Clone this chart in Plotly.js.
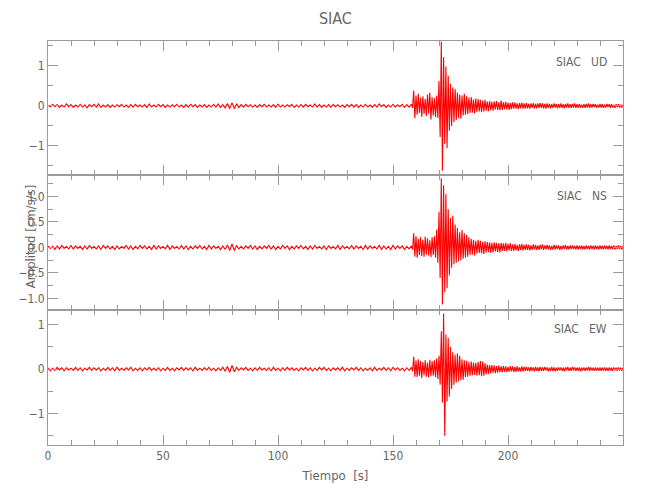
<!DOCTYPE html>
<html>
<head>
<meta charset="utf-8">
<script src="https://cdn.plot.ly/plotly-3.0.1.min.js"></script>
<style>html,body{margin:0;padding:0;background:#fff}#chart{width:650px;height:500px}</style>
</head>
<body>
<div id="chart"></div>
<script>
// Sampling of the record (seconds)
const QUIET_START = 0, QUIET_STEP = 1;      // 0 .. 157 s
const EVENT_START = 158, EVENT_STEP = 0.5;  // 158 .. 250 s

const STATION = "SIAC";
const COMPONENTS = ["UD", "NS", "EW"];
const X_TICKS = [0, 50, 100, 150, 200];

// Vertical component (cm/s/s)
const UD_QUIET = [
0.02,-0.03,0.04,-0.02,0.03,-0.04,0.02,-0.03,0.05,-0.02,
0.03,-0.04,0.02,-0.03,0.04,-0.03,0.02,-0.05,0.03,-0.02,
0.04,-0.03,0.05,-0.04,0.02,-0.03,0.03,-0.04,0.02,-0.03,
0.03,-0.02,0.04,-0.03,0.02,-0.04,0.03,-0.03,0.04,-0.02,
0.02,-0.03,0.03,-0.04,0.05,-0.03,0.02,-0.03,0.04,-0.02,
0.03,-0.04,0.02,-0.03,0.03,-0.02,0.04,-0.03,0.02,-0.04,
0.03,-0.03,0.04,-0.02,0.03,-0.04,0.02,-0.03,0.03,-0.04,
0.02,-0.03,0.04,-0.03,0.05,-0.04,0.03,-0.05,0.06,-0.07,
0.08,-0.07,0.05,-0.04,0.03,-0.03,0.04,-0.02,0.03,-0.03,
0.02,-0.04,0.03,-0.02,0.04,-0.03,0.02,-0.03,0.03,-0.04,
0.04,-0.03,0.02,-0.03,0.03,-0.02,0.04,-0.04,0.02,-0.03,
0.03,-0.03,0.04,-0.02,0.02,-0.03,0.05,-0.03,0.03,-0.04,
0.02,-0.03,0.03,-0.04,0.04,-0.02,0.03,-0.03,0.02,-0.04,
0.03,-0.02,0.04,-0.03,0.03,-0.04,0.02,-0.03,0.04,-0.03,
0.02,-0.04,0.03,-0.03,0.05,-0.02,0.03,-0.04,0.02,-0.03,
0.04,-0.03,0.03,-0.02,0.04,-0.04,0.03,-0.03
];
const UD_EVENT = [
0.04,-0.05,0.38,-0.31,0.26,-0.22,0.3,-0.18,0.21,-0.27,
0.24,-0.2,0.17,-0.25,0.28,-0.19,0.33,-0.34,0.22,-0.24,
0.19,-0.28,0.26,-0.3,0.62,-0.78,1.6,-1.62,1.22,-0.95,
0.98,-1.06,0.75,-0.62,0.55,-0.5,0.46,-0.4,0.42,-0.35,
0.33,-0.3,0.28,-0.32,0.26,-0.24,0.3,-0.22,0.24,-0.21,
0.2,-0.18,0.22,-0.17,0.16,-0.19,0.18,-0.15,0.17,-0.14,
0.15,-0.16,0.13,-0.14,0.15,-0.12,0.11,-0.13,0.12,-0.11,
0.1,-0.12,0.11,-0.09,0.12,-0.1,0.09,-0.11,0.13,-0.1,
0.09,-0.08,0.1,-0.09,0.08,-0.1,0.07,-0.08,0.09,-0.07,
0.08,-0.07,0.06,-0.08,0.07,-0.06,0.08,-0.07,0.06,-0.07,
0.07,-0.06,0.05,-0.07,0.06,-0.05,0.07,-0.06,0.05,-0.06,
0.06,-0.05,0.07,-0.05,0.06,-0.06,0.05,-0.07,0.06,-0.05,
0.05,-0.06,0.04,-0.05,0.06,-0.04,0.05,-0.06,0.04,-0.05,
0.06,-0.05,0.04,-0.06,0.05,-0.04,0.06,-0.05,0.04,-0.05,
0.05,-0.04,0.06,-0.05,0.04,-0.05,0.05,-0.04,0.03,-0.05,
0.04,-0.05,0.05,-0.04,0.06,-0.05,0.04,-0.04,0.05,-0.03,
0.04,-0.05,0.03,-0.04,0.05,-0.04,0.04,-0.05,0.03,-0.04,
0.05,-0.03,0.04,-0.05,0.04,-0.04,0.03,-0.05,0.04,-0.03,
0.04,-0.04,0.03,-0.04,0.03
];

// North-south component (cm/s/s)
const NS_QUIET = [
0.03,-0.02,0.02,-0.04,0.03,-0.03,0.04,-0.02,0.02,-0.03,
0.04,-0.03,0.03,-0.02,0.02,-0.04,0.03,-0.03,0.04,-0.02,
0.02,-0.03,0.03,-0.04,0.04,-0.02,0.03,-0.03,0.02,-0.04,
0.03,-0.03,0.02,-0.02,0.04,-0.03,0.03,-0.04,0.02,-0.03,
0.04,-0.02,0.03,-0.03,0.02,-0.04,0.04,-0.03,0.03,-0.02,
0.02,-0.03,0.04,-0.04,0.03,-0.02,0.02,-0.03,0.04,-0.03,
0.03,-0.04,0.02,-0.03,0.03,-0.02,0.04,-0.03,0.02,-0.04,
0.04,-0.03,0.03,-0.02,0.02,-0.04,0.03,-0.04,0.05,-0.06,
0.07,-0.06,0.04,-0.03,0.02,-0.03,0.03,-0.02,0.04,-0.03,
0.03,-0.04,0.02,-0.03,0.03,-0.02,0.04,-0.03,0.03,-0.04,
0.02,-0.03,0.04,-0.02,0.03,-0.04,0.02,-0.03,0.03,-0.02,
0.04,-0.03,0.02,-0.04,0.03,-0.03,0.04,-0.02,0.02,-0.03,
0.03,-0.04,0.03,-0.02,0.02,-0.03,0.04,-0.04,0.03,-0.02,
0.02,-0.03,0.04,-0.03,0.03,-0.02,0.02,-0.04,0.04,-0.03,
0.03,-0.02,0.02,-0.03,0.04,-0.04,0.03,-0.03,0.02,-0.04,
0.04,-0.03,0.03,-0.02,0.03,-0.04,0.02,-0.03
];
const NS_EVENT = [
0.03,-0.04,0.28,-0.18,0.22,-0.2,0.17,-0.15,0.2,-0.17,
0.15,-0.18,0.21,-0.14,0.18,-0.16,0.14,-0.19,0.2,-0.15,
0.22,-0.2,0.35,-0.3,0.7,-0.6,1.36,-1.12,1.22,-0.88,
1.05,-0.8,0.75,-0.55,0.58,-0.4,0.62,-0.33,0.45,-0.3,
0.38,-0.27,0.3,-0.25,0.34,-0.22,0.28,-0.2,0.25,-0.18,
0.2,-0.15,0.17,-0.14,0.15,-0.16,0.13,-0.12,0.15,-0.11,
0.13,-0.12,0.11,-0.13,0.12,-0.1,0.11,-0.09,0.1,-0.11,
0.09,-0.1,0.1,-0.08,0.09,-0.09,0.08,-0.1,0.09,-0.07,
0.08,-0.07,0.09,-0.08,0.07,-0.06,0.08,-0.07,0.06,-0.07,
0.07,-0.06,0.05,-0.07,0.06,-0.05,0.07,-0.06,0.05,-0.05,
0.06,-0.05,0.05,-0.06,0.04,-0.05,0.06,-0.04,0.05,-0.05,
0.04,-0.05,0.05,-0.04,0.06,-0.05,0.04,-0.04,0.05,-0.04,
0.04,-0.05,0.03,-0.04,0.05,-0.04,0.04,-0.03,0.04,-0.05,
0.03,-0.04,0.04,-0.03,0.05,-0.04,0.03,-0.04,0.04,-0.03,
0.04,-0.03,0.03,-0.04,0.04,-0.04,0.03,-0.03,0.04,-0.04,
0.03,-0.04,0.04,-0.03,0.03,-0.04,0.04,-0.03,0.03,-0.04,
0.04,-0.03,0.03,-0.04,0.04,-0.03,0.03,-0.04,0.04,-0.03,
0.03,-0.04,0.04,-0.03,0.03,-0.03,0.04,-0.04,0.03,-0.03,
0.04,-0.03,0.03,-0.04,0.03
];

// East-west component (cm/s/s)
const EW_QUIET = [
0.03,-0.04,0.02,-0.03,0.04,-0.02,0.03,-0.04,0.03,-0.02,
0.02,-0.03,0.04,-0.03,0.03,-0.04,0.02,-0.02,0.04,-0.03,
0.03,-0.02,0.03,-0.04,0.02,-0.03,0.04,-0.03,0.03,-0.04,
0.04,-0.03,0.02,-0.03,0.03,-0.02,0.04,-0.04,0.02,-0.03,
0.03,-0.04,0.03,-0.02,0.04,-0.03,0.02,-0.03,0.03,-0.04,
0.02,-0.03,0.04,-0.03,0.02,-0.04,0.03,-0.02,0.04,-0.03,
0.03,-0.02,0.03,-0.04,0.04,-0.03,0.02,-0.03,0.03,-0.02,
0.04,-0.03,0.02,-0.04,0.03,-0.03,0.04,-0.05,0.06,-0.07,
0.08,-0.06,0.04,-0.03,0.03,-0.02,0.04,-0.03,0.02,-0.04,
0.03,-0.03,0.04,-0.02,0.02,-0.03,0.03,-0.04,0.04,-0.03,
0.02,-0.04,0.03,-0.03,0.04,-0.02,0.03,-0.03,0.02,-0.04,
0.03,-0.02,0.04,-0.03,0.03,-0.04,0.02,-0.03,0.04,-0.02,
0.04,-0.03,0.02,-0.04,0.03,-0.02,0.03,-0.03,0.04,-0.04,
0.02,-0.03,0.03,-0.02,0.04,-0.03,0.03,-0.04,0.02,-0.03,
0.03,-0.04,0.04,-0.03,0.02,-0.02,0.04,-0.03,0.03,-0.04,
0.04,-0.02,0.03,-0.03,0.02,-0.04,0.03,-0.03
];
const EW_EVENT = [
0.04,-0.05,0.28,-0.17,0.2,-0.18,0.22,-0.15,0.18,-0.2,
0.16,-0.14,0.2,-0.17,0.15,-0.19,0.21,-0.16,0.18,-0.15,
0.2,-0.18,0.24,-0.22,0.3,-0.35,0.85,-0.75,1.25,-1.5,
0.78,-0.73,0.7,-0.62,0.5,-0.45,0.38,-0.35,0.32,-0.3,
0.35,-0.28,0.3,-0.25,0.22,-0.24,0.2,-0.18,0.19,-0.17,
0.16,-0.15,0.17,-0.14,0.15,-0.13,0.14,-0.15,0.16,-0.14,
0.18,-0.16,0.17,-0.15,0.13,-0.12,0.1,-0.11,0.09,-0.1,
0.09,-0.08,0.08,-0.09,0.07,-0.08,0.08,-0.07,0.06,-0.07,
0.07,-0.06,0.06,-0.07,0.05,-0.06,0.07,-0.05,0.06,-0.06,
0.05,-0.06,0.06,-0.05,0.04,-0.05,0.06,-0.05,0.05,-0.04,
0.05,-0.04,0.04,-0.05,0.05,-0.04,0.04,-0.05,0.05,-0.04,
0.04,-0.05,0.05,-0.04,0.04,-0.04,0.05,-0.03,0.04,-0.05,
0.03,-0.04,0.05,-0.04,0.04,-0.05,0.03,-0.04,0.04,-0.03,
0.04,-0.04,0.03,-0.05,0.04,-0.03,0.05,-0.04,0.03,-0.04,
0.05,-0.03,0.04,-0.04,0.03,-0.04,0.04,-0.05,0.03,-0.03,
0.04,-0.04,0.03,-0.03,0.05,-0.04,0.04,-0.03,0.03,-0.04,
0.04,-0.03,0.03,-0.04,0.04,-0.04,0.03,-0.03,0.04,-0.04,
0.03,-0.04,0.04,-0.03,0.03,-0.04,0.04,-0.03,0.03,-0.04,
0.04,-0.03,0.03,-0.04,0.03
];

function timesFor(quiet, event) {
  const t = [];
  for (let i = 0; i < quiet.length; i++) t.push(QUIET_START + i * QUIET_STEP);
  for (let i = 0; i < event.length; i++) t.push(EVENT_START + i * EVENT_STEP);
  return t;
}

const FONT = "DejaVu Sans Condensed, Liberation Sans Narrow, sans-serif";
const AX = '#9a9a9a';
const TXT = '#666666';
const LINE = {color: '#ff0000', width: 1.1};

const channels = [
  {q: UD_QUIET, e: UD_EVENT, x: 'x', y: 'y'},
  {q: NS_QUIET, e: NS_EVENT, x: 'x2', y: 'y2'},
  {q: EW_QUIET, e: EW_EVENT, x: 'x3', y: 'y3'}
];
// Panel order top->bottom: UD (x/y), NS (x2/y2), EW (x3/y3)
const data = channels.map(c => ({
  type: 'scatter', mode: 'lines',
  x: timesFor(c.q, c.e), y: c.q.concat(c.e),
  xaxis: c.x, yaxis: c.y, line: LINE, hoverinfo: 'skip'
}));

function xAxis(anchor, showLabels) {
  return {
    anchor: anchor, domain: [0, 1], range: [0, 250],
    tickmode: 'array', tickvals: X_TICKS, showticklabels: showLabels,
    ticks: 'inside', ticklen: 10, tickwidth: 1, tickcolor: AX,
    showline: true, linecolor: AX, linewidth: 1, mirror: 'ticks',
    showgrid: false, zeroline: false,
    minor: {tickmode: 'linear', tick0: 0, dtick: 10, ticks: 'inside', ticklen: 5, tickcolor: AX, showgrid: false},
    tickfont: {family: FONT, size: 12, color: TXT}
  };
}
function yAxis(anchor, domain, range, vals, fmt, minorStep) {
  return {
    anchor: anchor, domain: domain, range: range,
    tickmode: 'array', tickvals: vals, tickformat: fmt,
    ticks: 'inside', ticklen: 10, tickwidth: 1, tickcolor: AX,
    showline: true, linecolor: AX, linewidth: 1, mirror: 'ticks',
    showgrid: false, zeroline: false,
    minor: {tickmode: 'linear', tick0: 0, dtick: minorStep, ticks: 'inside', ticklen: 5, tickcolor: AX, showgrid: false},
    tickfont: {family: FONT, size: 12, color: TXT}
  };
}

const nb = '\u00a0\u00a0\u00a0';
const labelY = [0.948, 0.616, 0.287];
const annotations = COMPONENTS.map((c, i) => ({
  xref: 'paper', yref: 'paper', x: 0.976, y: labelY[i], xanchor: 'right', yanchor: 'middle',
  text: STATION + nb + c, showarrow: false, font: {family: FONT, size: 12, color: TXT}
}));
annotations.push({
  xref: 'paper', yref: 'paper', x: -0.029, y: 0.515, xanchor: 'center', yanchor: 'middle',
  text: 'Amplitud\u00a0[cm/s/s]', textangle: -90, showarrow: false,
  font: {family: FONT, size: 13, color: TXT}
});

const layout = {
  width: 650, height: 500,
  margin: {l: 48, r: 27, t: 41, b: 55},
  paper_bgcolor: '#ffffff', plot_bgcolor: '#ffffff',
  showlegend: false, hovermode: false,
  title: {text: STATION, x: 0.516, xanchor: 'center', y: 0.964, yanchor: 'middle',
          font: {family: FONT, size: 16, color: TXT}},
  xaxis: xAxis('y', false),
  xaxis2: xAxis('y2', false),
  xaxis3: Object.assign(xAxis('y3', true), {
    title: {text: 'Tiempo\u00a0\u00a0[s]', standoff: 8, font: {family: FONT, size: 13, color: TXT}}
  }),
  yaxis: yAxis('x', [0.668, 1], [-1.73, 1.62], [-1, 0, 1], 'd', 0.5),
  yaxis2: yAxis('x2', [0.334, 0.668], [-1.23, 1.42], [-1, -0.5, 0, 0.5, 1], '.1f', 0.25),
  yaxis3: yAxis('x3', [0, 0.334], [-1.71, 1.33], [-1, 0, 1], 'd', 0.5),
  annotations: annotations
};

Plotly.newPlot('chart', data, layout, {displayModeBar: false, staticPlot: true});
</script>
</body>
</html>
